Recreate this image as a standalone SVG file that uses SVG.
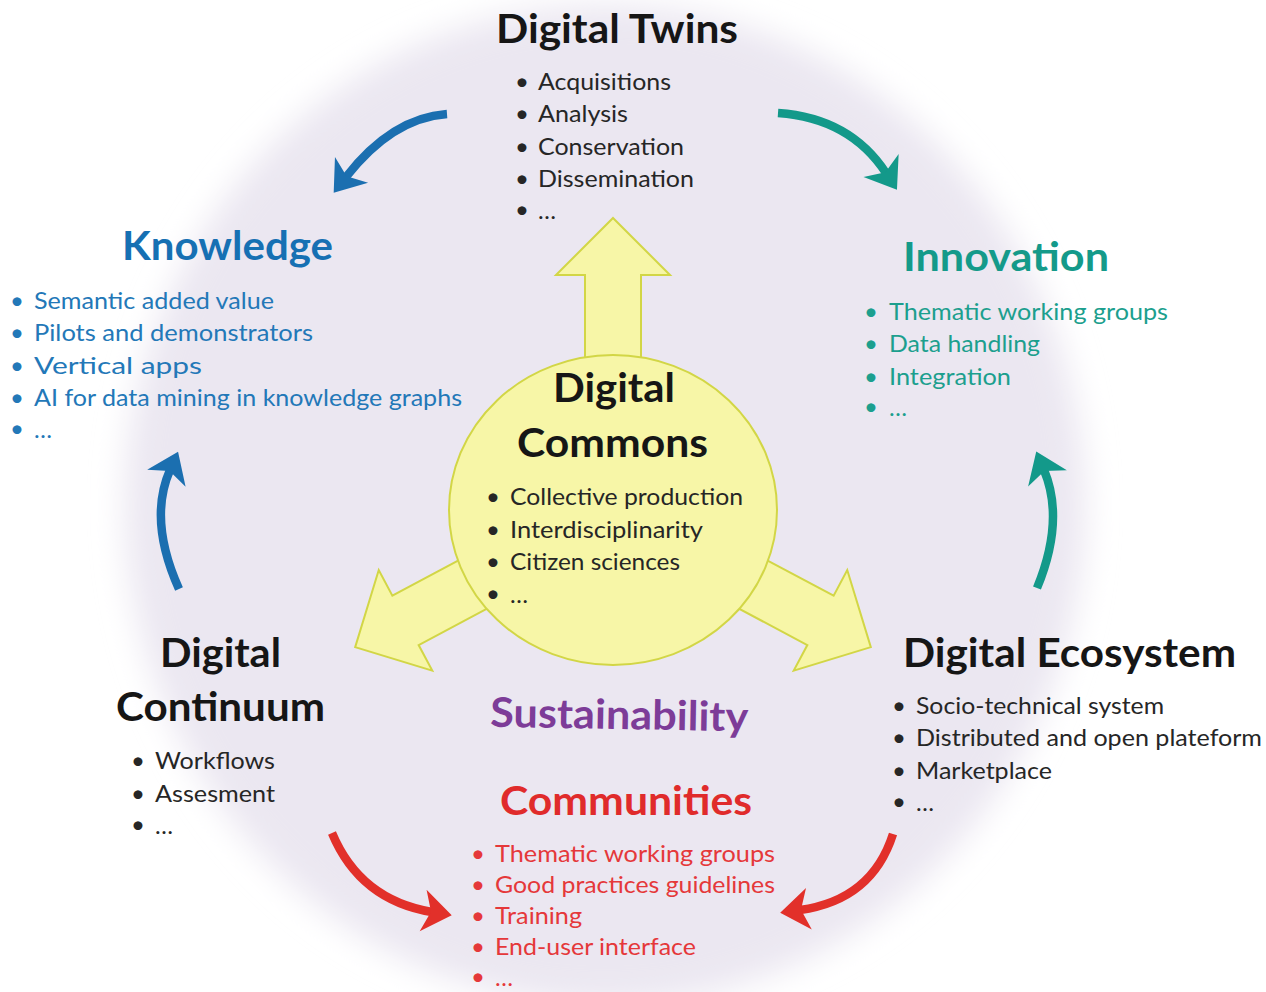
<svg xmlns="http://www.w3.org/2000/svg" width="1266" height="992" viewBox="0 0 1266 992">
<defs>
<style>
text{font-family:Lato,"Open Sans","Liberation Sans",sans-serif}
.t{font-size:41px;font-weight:700}
.i{font-size:24px;font-weight:400}
.b{font-size:24px;text-anchor:middle}
.blk{fill:#161616}.dk{fill:#262626}
.kt{fill:#1670b3}.ki{fill:#2378b8}
.nt{fill:#149a8a}.ni{fill:#1c9f8e}
.ct{fill:#e02b2b}.ci{fill:#e5383a}
.st{fill:#7d3c98}
.ya{fill:#f7f6a7;stroke:#d2d646;stroke-width:2;stroke-linejoin:miter}
.cv{fill:none;stroke-width:8.5;stroke-linecap:butt}
</style>
<filter id="soft" x="-10%" y="-10%" width="120%" height="120%"><feGaussianBlur stdDeviation="16"/></filter>
<marker id="mB" markerUnits="userSpaceOnUse" markerWidth="36" markerHeight="46" viewBox="0 0 36 46" refX="13" refY="23" orient="auto"><path d="M33,23 L4,2 L12,23 L4,44 Z" fill="#1b6fb0"/></marker>
<marker id="mT" markerUnits="userSpaceOnUse" markerWidth="36" markerHeight="46" viewBox="0 0 36 46" refX="13" refY="23" orient="auto"><path d="M33,23 L4,2 L12,23 L4,44 Z" fill="#13998a"/></marker>
<marker id="mR" markerUnits="userSpaceOnUse" markerWidth="36" markerHeight="46" viewBox="0 0 36 46" refX="13" refY="23" orient="auto"><path d="M33,23 L4,2 L12,23 L4,44 Z" fill="#e2302a"/></marker>
<path id="yarrow" d="M613,218 L670,275 L641,275 L641,385 L585,385 L585,275 L556,275 Z"/>
</defs>
<rect width="1266" height="992" fill="#ffffff"/>
<ellipse cx="605" cy="505" rx="480" ry="500" fill="#ebe7f1" filter="url(#soft)"/>

<g id="connectors">
<use href="#yarrow" class="ya"/>
<use href="#yarrow" class="ya" transform="rotate(-118 613 510)"/>
<use href="#yarrow" class="ya" transform="rotate(118 613 510)"/>
<path class="cv" stroke="#1b6fb0" marker-end="url(#mB)" d="M447,114 Q392,118 346,177"/>
<path class="cv" stroke="#13998a" marker-end="url(#mT)" d="M778,113 Q850,118 886,173"/>
<path class="cv" stroke="#1b6fb0" marker-end="url(#mB)" d="M179,589 Q148,520 170,470"/>
<path class="cv" stroke="#13998a" marker-end="url(#mT)" d="M1037,588 Q1065,520 1044,470"/>
<path class="cv" stroke="#e2302a" marker-end="url(#mR)" d="M332,833 Q360,900 432,912"/>
<path class="cv" stroke="#e2302a" marker-end="url(#mR)" d="M893,834 Q872,900 800,910"/>
</g>

<g id="digital-commons">
<ellipse cx="613" cy="510" rx="164" ry="155" class="ya"/>
<text class="t blk" x="553" y="402" textLength="122" lengthAdjust="spacingAndGlyphs">Digital</text>
<text class="t blk" x="517" y="457" textLength="191" lengthAdjust="spacingAndGlyphs">Commons</text>
<text class="b dk" x="493" y="505">•</text><text class="i dk" x="510" y="505" textLength="233" lengthAdjust="spacingAndGlyphs">Collective production</text>
<text class="b dk" x="493" y="538">•</text><text class="i dk" x="510" y="538" textLength="193" lengthAdjust="spacingAndGlyphs">Interdisciplinarity</text>
<text class="b dk" x="493" y="570">•</text><text class="i dk" x="510" y="570" textLength="170" lengthAdjust="spacingAndGlyphs">Citizen sciences</text>
<text class="b dk" x="493" y="602">•</text><text class="i dk" x="510" y="603">…</text>
</g>

<g id="digital-twins">
<text class="t blk" x="496" y="43" textLength="242" lengthAdjust="spacingAndGlyphs">Digital Twins</text>
<text class="b dk" x="522" y="90">•</text><text class="i dk" x="538" y="90" textLength="133" lengthAdjust="spacingAndGlyphs">Acquisitions</text>
<text class="b dk" x="522" y="122">•</text><text class="i dk" x="538" y="122" textLength="90" lengthAdjust="spacingAndGlyphs">Analysis</text>
<text class="b dk" x="522" y="155">•</text><text class="i dk" x="538" y="155" textLength="146" lengthAdjust="spacingAndGlyphs">Conservation</text>
<text class="b dk" x="522" y="187">•</text><text class="i dk" x="538" y="187" textLength="156" lengthAdjust="spacingAndGlyphs">Dissemination</text>
<text class="b dk" x="522" y="218">•</text><text class="i dk" x="538" y="219">…</text>
</g>

<g id="knowledge">
<text class="t kt" x="122" y="260" textLength="211" lengthAdjust="spacingAndGlyphs">Knowledge</text>
<text class="b ki" x="17" y="309">•</text><text class="i ki" x="34" y="309" textLength="240" lengthAdjust="spacingAndGlyphs">Semantic added value</text>
<text class="b ki" x="17" y="341">•</text><text class="i ki" x="34" y="341" textLength="279" lengthAdjust="spacingAndGlyphs">Pilots and demonstrators</text>
<text class="b ki" x="17" y="374">•</text><text class="i ki" x="34" y="374" textLength="168" lengthAdjust="spacingAndGlyphs">Vertical apps</text>
<text class="b ki" x="17" y="406">•</text><text class="i ki" x="34" y="406" textLength="428" lengthAdjust="spacingAndGlyphs">AI for data mining in knowledge graphs</text>
<text class="b ki" x="17" y="437">•</text><text class="i ki" x="34" y="438">…</text>
</g>

<g id="innovation">
<text class="t nt" x="903" y="271" textLength="206" lengthAdjust="spacingAndGlyphs">Innovation</text>
<text class="b ni" x="871" y="320">•</text><text class="i ni" x="889" y="320" textLength="279" lengthAdjust="spacingAndGlyphs">Thematic working groups</text>
<text class="b ni" x="871" y="352">•</text><text class="i ni" x="889" y="352" textLength="151" lengthAdjust="spacingAndGlyphs">Data handling</text>
<text class="b ni" x="871" y="385">•</text><text class="i ni" x="889" y="385" textLength="122" lengthAdjust="spacingAndGlyphs">Integration</text>
<text class="b ni" x="871" y="415">•</text><text class="i ni" x="889" y="416">…</text>
</g>

<g id="digital-continuum">
<text class="t blk" x="160" y="667" textLength="121" lengthAdjust="spacingAndGlyphs">Digital</text>
<text class="t blk" x="116" y="721" textLength="209" lengthAdjust="spacingAndGlyphs">Continuum</text>
<text class="b dk" x="138" y="769">•</text><text class="i dk" x="155" y="769" textLength="120" lengthAdjust="spacingAndGlyphs">Workflows</text>
<text class="b dk" x="138" y="802">•</text><text class="i dk" x="155" y="802" textLength="120" lengthAdjust="spacingAndGlyphs">Assesment</text>
<text class="b dk" x="138" y="833">•</text><text class="i dk" x="155" y="834">…</text>
</g>

<g id="digital-ecosystem">
<text class="t blk" x="903" y="667" textLength="333" lengthAdjust="spacingAndGlyphs">Digital Ecosystem</text>
<text class="b dk" x="899" y="714">•</text><text class="i dk" x="916" y="714" textLength="248" lengthAdjust="spacingAndGlyphs">Socio-technical system</text>
<text class="b dk" x="899" y="746">•</text><text class="i dk" x="916" y="746" textLength="346" lengthAdjust="spacingAndGlyphs">Distributed and open plateform</text>
<text class="b dk" x="899" y="779">•</text><text class="i dk" x="916" y="779" textLength="136" lengthAdjust="spacingAndGlyphs">Marketplace</text>
<text class="b dk" x="899" y="810">•</text><text class="i dk" x="916" y="811">…</text>
</g>

<g id="sustainability">
<text class="t st" x="490" y="729" textLength="258" lengthAdjust="spacingAndGlyphs" transform="rotate(1 619 729)">Sustainability</text>
</g>

<g id="communities">
<text class="t ct" x="500" y="815" textLength="252" lengthAdjust="spacingAndGlyphs">Communities</text>
<text class="b ci" x="478" y="862">•</text><text class="i ci" x="495" y="862" textLength="280" lengthAdjust="spacingAndGlyphs">Thematic working groups</text>
<text class="b ci" x="478" y="893">•</text><text class="i ci" x="495" y="893" textLength="280" lengthAdjust="spacingAndGlyphs">Good practices guidelines</text>
<text class="b ci" x="478" y="924">•</text><text class="i ci" x="495" y="924" textLength="87" lengthAdjust="spacingAndGlyphs">Training</text>
<text class="b ci" x="478" y="955">•</text><text class="i ci" x="495" y="955" textLength="201" lengthAdjust="spacingAndGlyphs">End-user interface</text>
<text class="b ci" x="478" y="985" font-size="18">•</text><text class="i ci" x="495" y="986" font-size="18">…</text>
</g>
</svg>
